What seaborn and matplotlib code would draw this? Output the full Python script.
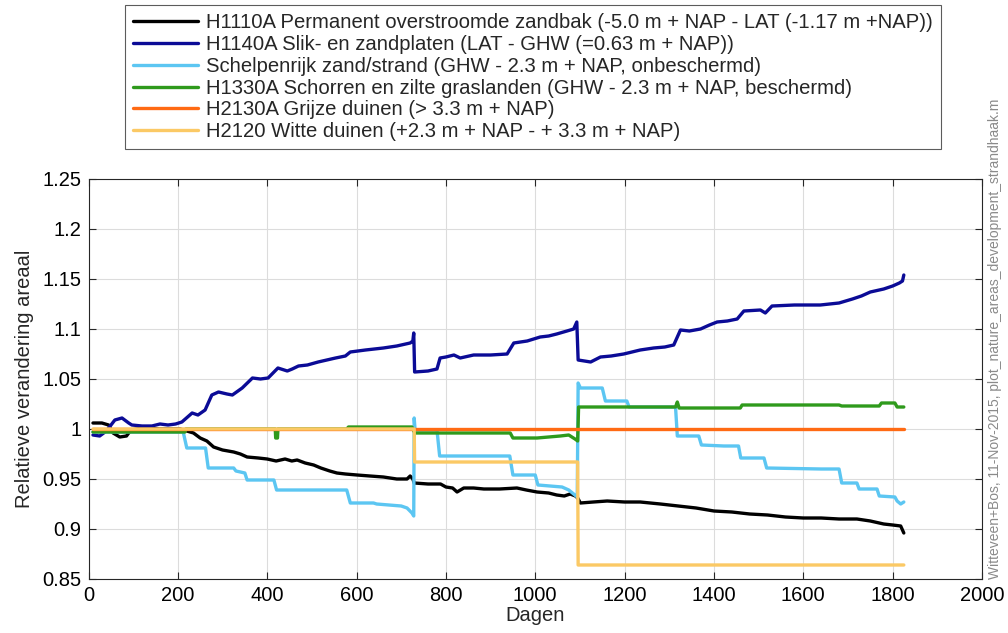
import numpy as np
import pandas as pd
import matplotlib
matplotlib.use("Agg")
import matplotlib.pyplot as plt
import seaborn as sns
from matplotlib.ticker import FuncFormatter

# ---------------- data ----------------
labels = [
    "H1110A Permanent overstroomde zandbak (-5.0 m + NAP - LAT (-1.17 m +NAP))",
    "H1140A Slik- en zandplaten (LAT - GHW (=0.63 m + NAP))",
    "Schelpenrijk zand/strand (GHW - 2.3 m + NAP, onbeschermd)",
    "H1330A Schorren en zilte graslanden (GHW - 2.3 m + NAP, beschermd)",
    "H2130A Grijze duinen (> 3.3 m + NAP)",
    "H2120 Witte duinen (+2.3 m + NAP - + 3.3 m + NAP)",
]
colors = ["#000000", "#0b0b96", "#5cc6f2", "#2f9a1c", "#ff6a13", "#fbc965"]

h1110_days = [10, 30, 45, 55, 70, 85, 95, 120, 160, 205, 220, 235, 250, 265, 280, 300, 325, 340, 355,
              380, 400, 420, 440, 455, 467, 485, 504, 520, 540, 556, 575, 601, 630, 660, 690, 713, 720,
              726, 729, 760, 788, 800, 815, 825, 840, 862, 885, 920, 959, 980, 1004, 1030, 1048, 1065,
              1078, 1090, 1095, 1101, 1130, 1161, 1200, 1235, 1280, 1320, 1360, 1400, 1440, 1480, 1520,
              1560, 1600, 1640, 1680, 1720, 1750, 1780, 1800, 1818, 1822, 1825]
h1110_vals = [1.006, 1.006, 1.004, 0.996, 0.992, 0.993, 0.999, 1.001, 1.000, 1.000, 0.998, 0.996, 0.991,
              0.988, 0.982, 0.979, 0.977, 0.975, 0.972, 0.971, 0.970, 0.968, 0.970, 0.968, 0.969, 0.966,
              0.964, 0.961, 0.958, 0.956, 0.955, 0.954, 0.953, 0.952, 0.950, 0.950, 0.953, 0.950, 0.946,
              0.945, 0.945, 0.942, 0.941, 0.937, 0.941, 0.941, 0.940, 0.940, 0.941, 0.939, 0.937, 0.936,
              0.934, 0.933, 0.935, 0.933, 0.931, 0.926, 0.927, 0.928, 0.927, 0.927, 0.925, 0.923, 0.921,
              0.918, 0.917, 0.915, 0.914, 0.912, 0.911, 0.911, 0.910, 0.910, 0.908, 0.905, 0.904, 0.903,
              0.899, 0.896]

h1140_days = [10, 25, 40, 59, 75, 90, 97, 120, 142, 160, 178, 195, 209, 232, 245, 261, 276, 291, 310,
              322, 344, 367, 385, 402, 424, 445, 456, 470, 490, 514, 553, 575, 586, 620, 660, 690, 720,
              726, 728, 730, 760, 780, 787, 800, 818, 832, 862, 900, 937, 952, 982, 1011, 1030, 1048,
              1071, 1086, 1093, 1096, 1124, 1146, 1170, 1198, 1235, 1265, 1290, 1310, 1325, 1345, 1370,
              1390, 1407, 1430, 1452, 1467, 1504, 1515, 1530, 1580, 1638, 1680, 1710, 1730, 1750, 1780,
              1800, 1815, 1822, 1825]
h1140_vals = [0.994, 0.993, 0.998, 1.009, 1.011, 1.006, 1.004, 1.003, 1.003, 1.005, 1.004, 1.005, 1.007,
              1.016, 1.014, 1.019, 1.034, 1.037, 1.035, 1.034, 1.041, 1.051, 1.050, 1.051, 1.061, 1.058,
              1.060, 1.063, 1.064, 1.067, 1.071, 1.073, 1.077, 1.079, 1.081, 1.083, 1.086, 1.088, 1.096,
              1.057, 1.058, 1.060, 1.071, 1.072, 1.074, 1.071, 1.074, 1.074, 1.075, 1.086, 1.088, 1.092,
              1.093, 1.095, 1.098, 1.100, 1.107, 1.069, 1.067, 1.072, 1.073, 1.075, 1.079, 1.081, 1.082,
              1.084, 1.099, 1.098, 1.100, 1.104, 1.107, 1.108, 1.110, 1.118, 1.119, 1.116, 1.123, 1.124,
              1.124, 1.126, 1.130, 1.133, 1.137, 1.140, 1.143, 1.146, 1.148, 1.154]

schelp_days = [10, 212, 220, 262, 268, 325, 330, 350, 355, 415, 421, 578, 586, 638, 645, 700, 713, 724,
               728, 729, 731, 780, 786, 943, 950, 1000, 1006, 1060, 1075, 1086, 1094, 1096, 1101, 1150,
               1157, 1205, 1210, 1314, 1318, 1366, 1372, 1422, 1455, 1460, 1512, 1518, 1640, 1680, 1686,
               1720, 1725, 1765, 1770, 1805, 1810, 1818, 1825]
schelp_vals = [0.997, 0.997, 0.981, 0.981, 0.961, 0.961, 0.958, 0.956, 0.949, 0.949, 0.939, 0.939, 0.926,
               0.926, 0.925, 0.923, 0.921, 0.916, 0.913, 1.011, 0.999, 0.999, 0.973, 0.973, 0.954, 0.954,
               0.944, 0.942, 0.939, 0.935, 0.932, 1.046, 1.041, 1.041, 1.028, 1.028, 1.022, 1.022, 0.993,
               0.993, 0.984, 0.983, 0.983, 0.971, 0.971, 0.961, 0.960, 0.960, 0.946, 0.946, 0.940, 0.940,
               0.933, 0.932, 0.928, 0.925, 0.927]

h1330_days = [10, 216, 218, 418, 419, 423, 424, 578, 582, 724, 728, 731, 944, 950, 1004, 1030, 1056, 1075,
              1089, 1095, 1097, 1314, 1318, 1322, 1459, 1463, 1680, 1686, 1770, 1775, 1805, 1810, 1825]
h1330_vals = [0.997, 0.997, 1.000, 1.000, 0.991, 0.991, 1.000, 1.000, 1.002, 1.002, 0.998, 0.996, 0.996,
              0.991, 0.991, 0.992, 0.993, 0.994, 0.990, 0.988, 1.022, 1.022, 1.027, 1.021, 1.021, 1.024,
              1.024, 1.023, 1.023, 1.026, 1.026, 1.022, 1.022]

h2130_days = [10, 1825]
h2130_vals = [1.000, 1.000]

h2120_days = [10, 729, 730, 1095, 1096, 1825]
h2120_vals = [1.000, 1.000, 0.967, 0.967, 0.864, 0.864]

xticks = [0, 200, 400, 600, 800, 1000, 1200, 1400, 1600, 1800, 2000]
yticks = [0.85, 0.9, 0.95, 1.0, 1.05, 1.1, 1.15, 1.2, 1.25]

series = [
    (h1110_days, h1110_vals),
    (h1140_days, h1140_vals),
    (schelp_days, schelp_vals),
    (h1330_days, h1330_vals),
    (h2130_days, h2130_vals),
    (h2120_days, h2120_vals),
]

# ---------------- plot ----------------
sns.set_style("white")
plt.rcParams["font.family"] = ["Liberation Sans", "DejaVu Sans"]

fig = plt.figure(figsize=(10.08, 6.33), dpi=100)
ax = fig.add_axes([88.5 / 1008, 1 - 579 / 633, 893.5 / 1008, 400 / 633])

handles = []
for i, ((d, v), lab, col) in enumerate(zip(series, labels, colors)):
    df = pd.DataFrame({"Dagen": d, "val": v})
    sns.lineplot(data=df, x="Dagen", y="val", ax=ax, color=col, linewidth=2.4,
                 sort=False, estimator=None, zorder=3 + i)
    handles.append(ax.lines[-1])

ax.set_xlim(0, 2000)
ax.set_ylim(0.85, 1.25)
ax.set_xticks(xticks)
ax.set_yticks(yticks)
ax.yaxis.set_major_formatter(FuncFormatter(lambda v, p: f"{v:g}"))
ax.grid(True, color="#dcdcdc", linewidth=0.8)
ax.set_axisbelow(True)
ax.tick_params(direction="in", length=5, width=0.8, colors="#262626", labelsize=14.5,
               top=True, right=True, bottom=True, left=True, labelcolor="black", pad=5)
for s in ax.spines.values():
    s.set_visible(True)
    s.set_color("#262626")
    s.set_linewidth(0.8)
ax.set_xlabel("Dagen", fontsize=14.5, labelpad=1)
ax.set_ylabel("Relatieve verandering areaal", fontsize=14.5, labelpad=6)

leg = fig.legend(handles, labels, loc="upper left", bbox_to_anchor=(125 / 1008, 1 - 5 / 633),
                 fontsize=14.6, frameon=True, fancybox=False, edgecolor="#333333",
                 handlelength=3.2, handletextpad=0.4, borderpad=0.4, labelspacing=0.14,
                 borderaxespad=0)
leg.get_frame().set_linewidth(0.8)
for l in leg.get_lines():
    l.set_linewidth(2.4)

fig.text(995 / 1008, 1 - 579 / 633, "Witteveen+Bos, 11-Nov-2015, plot_nature_areas_development_strandhaak.m",
         rotation=90, ha="center", va="bottom", fontsize=10, color="#8a8a8a")

fig.savefig("out.png", dpi=100)
